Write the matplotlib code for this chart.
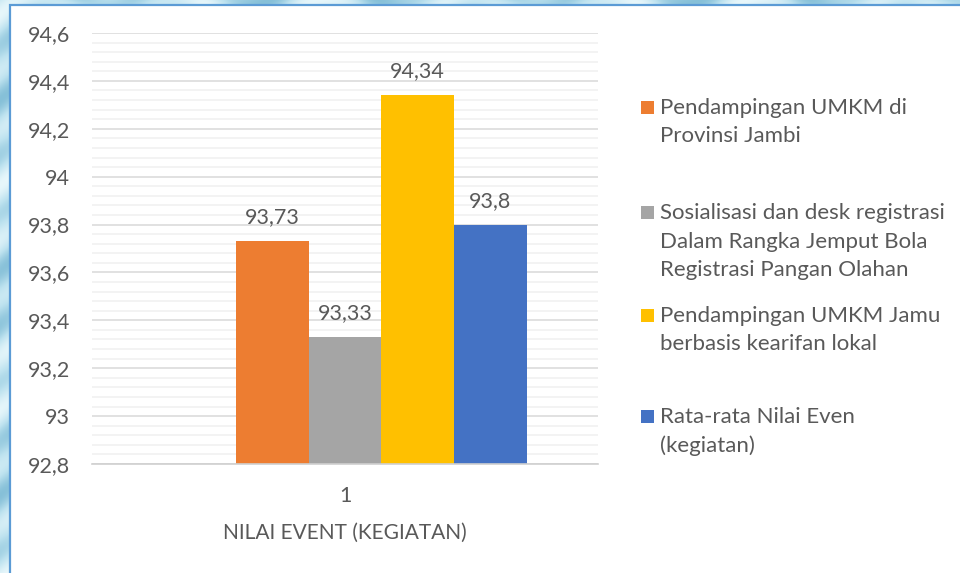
import matplotlib
matplotlib.use("Agg")
import matplotlib.pyplot as plt
from matplotlib.patches import Rectangle
from matplotlib.ticker import MultipleLocator, FixedLocator
import numpy as np

# Series shown in the chart
series_names = [
    "Pendampingan UMKM di\nProvinsi Jambi",
    "Sosialisasi dan desk registrasi\nDalam Rangka Jemput Bola\nRegistrasi Pangan Olahan",
    "Pendampingan UMKM Jamu\nberbasis kearifan lokal",
    "Rata-rata Nilai Even\n(kegiatan)",
]
series_values = [93.73, 93.33, 94.34, 93.8]
value_labels = ["93,73", "93,33", "94,34", "93,8"]
series_colors = ["#ED7D31", "#A5A5A5", "#FFC000", "#4472C4"]
category_labels = ["1"]
y_ticks = [92.8, 93.0, 93.2, 93.4, 93.6, 93.8, 94.0, 94.2, 94.4, 94.6]
y_tick_labels = ["92,8", "93", "93,2", "93,4", "93,6", "93,8", "94", "94,2", "94,4", "94,6"]
x_title = "NILAI EVENT (KEGIATAN)"

TEXT = "#595959"
FONT = "Lato"
plt.rcParams["font.family"] = [FONT, "DejaVu Sans"]

W, H = 960, 573
fig = plt.figure(figsize=(W / 100, H / 100), dpi=100)
fig.patch.set_facecolor("#a9d6e8")

# Light watercolour backdrop behind the chart frame
bg = fig.add_axes([0, 0, 1, 1], zorder=-5)
yy, xx = np.mgrid[0:H:1, 0:W:1]
tex = 0.5 + 0.25 * np.sin(yy / 9.0 + np.sin(xx / 23.0) * 2) + 0.15 * np.cos(xx / 17.0 + yy / 31.0)
bg.imshow(tex, cmap=matplotlib.colors.LinearSegmentedColormap.from_list(
    "wc", ["#86c0d8", "#bde2ef", "#e8f7fb"]), aspect="auto", extent=[0, W, H, 0])
bg.set_axis_off()

# White chart area with blue frame
frame = fig.add_axes([0, 0, 1, 1], zorder=-4)
frame.set_xlim(0, W)
frame.set_ylim(H, 0)
frame.add_patch(Rectangle((10, 4.5), W, H, facecolor="white", edgecolor="#5b9bd5", linewidth=1.6))
frame.set_axis_off()

left, right, top, bottom = 92, 598, 33, 464
ax = fig.add_axes([left / W, 1 - bottom / H, (right - left) / W, (bottom - top) / H])
ax.set_facecolor("none")

# Five slots in the cluster; the first slot is empty
n_slots = 5
slot_pos = np.arange(n_slots) - (n_slots - 1) / 2
for i, (val, lab, col) in enumerate(zip(series_values, value_labels, series_colors)):
    x = slot_pos[i + 1]
    ax.bar(x, val - y_ticks[0], bottom=y_ticks[0], width=1.0, color=col, zorder=3)
    ax.annotate(lab, (x, val), xytext=(0, 10), textcoords="offset points",
                ha="center", va="bottom", fontsize=15.5, color=TEXT)

bar_px = 72.7
half = (right - left) / bar_px / 2
ax.set_xlim(-half, half)
ax.set_ylim(y_ticks[0], y_ticks[-1])

ax.yaxis.set_major_locator(FixedLocator(y_ticks))
ax.set_yticklabels(y_tick_labels)
ax.yaxis.set_minor_locator(MultipleLocator(0.04))
ax.grid(axis="y", which="major", color="#d9d9d9", linewidth=1.1, zorder=0)
ax.grid(axis="y", which="minor", color="#f0f0f0", linewidth=1.1, zorder=0)
ax.tick_params(axis="y", which="both", length=0, labelsize=15.5, labelcolor=TEXT, pad=16)
ax.set_xticks([0])
ax.set_xticklabels(category_labels)
ax.tick_params(axis="x", length=0, labelsize=15.5, labelcolor=TEXT, pad=16)
for s in ["top", "right", "left"]:
    ax.spines[s].set_visible(False)
ax.spines["bottom"].set_color("#d0d0d0")
ax.spines["bottom"].set_linewidth(1.2)
ax.spines["bottom"].set_zorder(4)

ax.set_xlabel(x_title, fontsize=15, color=TEXT, labelpad=12)

# Legend drawn beside the plot
lg = fig.add_axes([0, 0, 1, 1], zorder=5)
lg.set_xlim(0, W)
lg.set_ylim(H, 0)
lg.set_axis_off()
entry_tops = [108, 213, 316, 417]
line_gap = 28.5
for name, col, y0 in zip(series_names, series_colors, entry_tops):
    lg.add_patch(Rectangle((641, y0 - 7), 13, 13, facecolor=col, edgecolor="none"))
    for k, line in enumerate(name.split("\n")):
        lg.text(660, y0 + k * line_gap, line, fontsize=16, color=TEXT, va="center", ha="left")

fig.savefig("out.png", dpi=100)
